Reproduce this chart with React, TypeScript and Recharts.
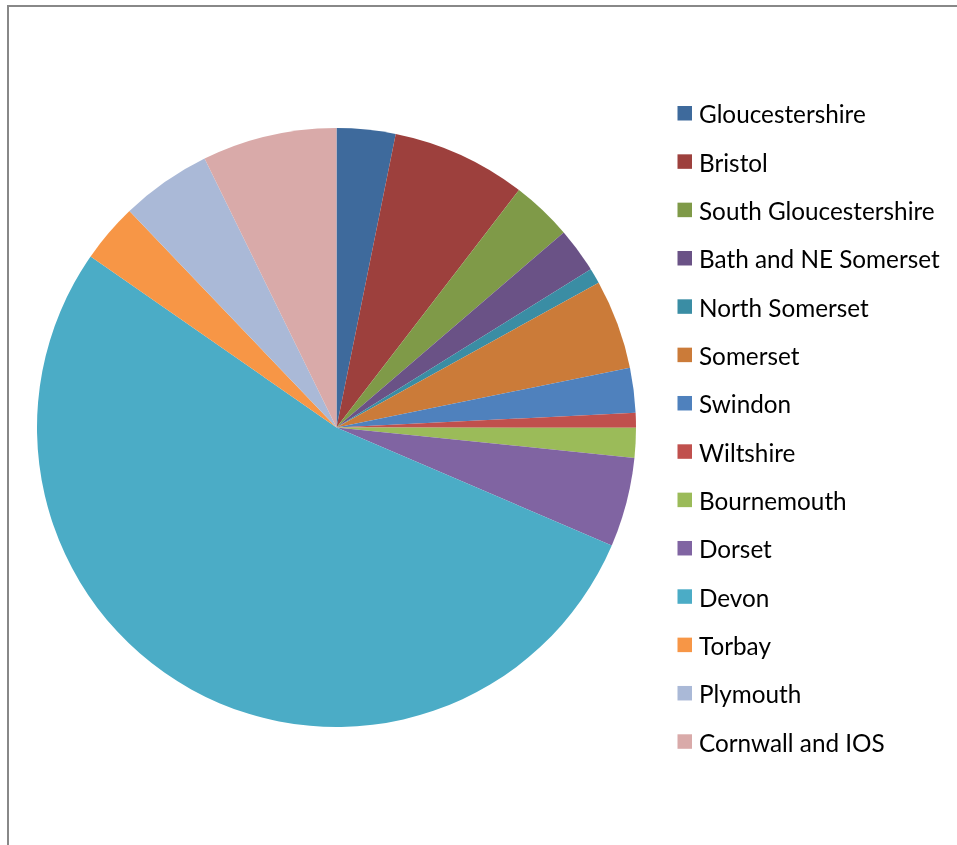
import React from 'react';
import { PieChart, Pie, Cell, Legend } from 'recharts';

const names = [
  'Gloucestershire', 'Bristol', 'South Gloucestershire', 'Bath and NE Somerset',
  'North Somerset', 'Somerset', 'Swindon', 'Wiltshire', 'Bournemouth', 'Dorset',
  'Devon', 'Torbay', 'Plymouth', 'Cornwall and IOS',
];
const values = [3.17, 7.26, 3.28, 2.43, 0.83, 4.83, 2.42, 0.8, 1.6, 4.83, 53.23, 3.18, 4.89, 7.26];
const colors = [
  '#3E6A9C', '#9D403D', '#7F9A48', '#6A5286', '#3A8DA4', '#CB7B39', '#4F81BD',
  '#C0504D', '#9BBB59', '#8064A2', '#4BACC6', '#F79646', '#AAB9D7', '#D9AAA9',
];

const data = names.map((name, i) => ({ name, value: values[i] }));

const FONT = 'Lato, "Open Sans", sans-serif';

const renderLegend = (props: any) => {
  const payload = [...(props.payload || [])].sort(
    (a: any, b: any) => names.indexOf(a.value) - names.indexOf(b.value),
  );
  return (
    <svg width={941} height={829} style={{ position: 'absolute', left: 0, top: 0, pointerEvents: 'none' }}>
      {payload.map((entry: any, i: number) => (
        <g key={entry.value}>
          <rect x={669.5} y={98 + i * 48.33} width={14.5} height={14.5} fill={entry.color} />
          <text x={691} y={115.3 + i * 48.33} fontFamily={FONT} fontSize={24.3} fill="#000">
            {entry.value}
          </text>
        </g>
      ))}
    </svg>
  );
};

export default function App() {
  return (
    <div style={{ position: 'relative' }}>
      <div
        style={{
          position: 'fixed', left: 7, top: 5, width: 950, height: 840,
          borderTop: '2px solid #888', borderLeft: '2px solid #888', boxSizing: 'border-box',
        }}
      />
      <PieChart width={941} height={829} margin={{ top: 0, right: 0, bottom: 0, left: 0 }}>
        <Pie
          data={data}
          dataKey="value"
          nameKey="name"
          cx={328.5}
          cy={419.5}
          outerRadius={299.5}
          startAngle={90}
          endAngle={-270}
          stroke="none"
          isAnimationActive={false}
        >
          {data.map((d, i) => (
            <Cell key={d.name} fill={colors[i]} />
          ))}
        </Pie>
        <Legend
          layout="vertical"
          align="right"
          verticalAlign="middle"
          content={renderLegend}
          wrapperStyle={{ position: 'absolute', left: 0, top: 0, width: 0, height: 0 }}
        />
      </PieChart>
    </div>
  );
}
